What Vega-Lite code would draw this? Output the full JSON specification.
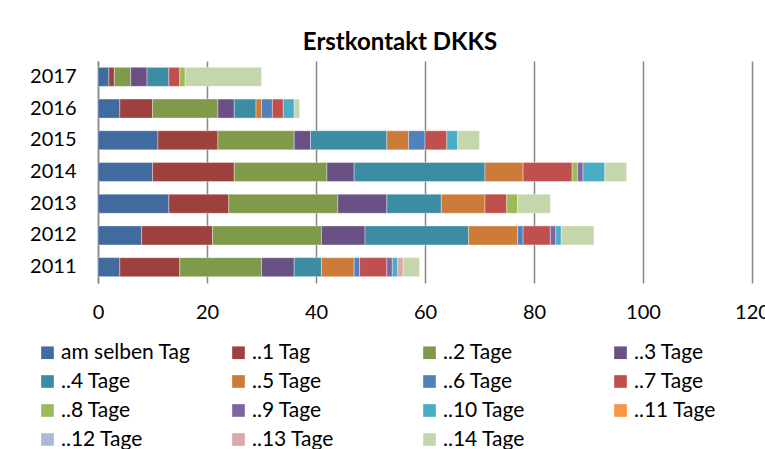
{
  "$schema": "https://vega.github.io/schema/vega-lite/v6.json",
  "autosize": "none",
  "width": 654,
  "height": 222,
  "padding": {"left": 98, "top": 61, "right": 13, "bottom": 166},
  "background": "#ffffff",
  "config": {
    "font": "Lato",
    "view": {"stroke": null},
    "axis": {"labelFont": "Lato", "labelFontSize": 20, "labelColor": "#000000"}
  },
  "title": {
    "text": "Erstkontakt DKKS",
    "font": "Lato",
    "fontSize": 24,
    "fontWeight": "bold",
    "color": "#000000",
    "anchor": "middle",
    "dx": -25,
    "offset": 6
  },
  "data": {
    "values": [
      {"y": "2017", "c": "am selben Tag", "k": 0, "v": 2},
      {"y": "2017", "c": "..1 Tag", "k": 1, "v": 1},
      {"y": "2017", "c": "..2 Tage", "k": 2, "v": 3},
      {"y": "2017", "c": "..3 Tage", "k": 3, "v": 3},
      {"y": "2017", "c": "..4 Tage", "k": 4, "v": 4},
      {"y": "2017", "c": "..7 Tage", "k": 7, "v": 2},
      {"y": "2017", "c": "..8 Tage", "k": 8, "v": 1},
      {"y": "2017", "c": "..14 Tage", "k": 14, "v": 14},
      {"y": "2016", "c": "am selben Tag", "k": 0, "v": 4},
      {"y": "2016", "c": "..1 Tag", "k": 1, "v": 6},
      {"y": "2016", "c": "..2 Tage", "k": 2, "v": 12},
      {"y": "2016", "c": "..3 Tage", "k": 3, "v": 3},
      {"y": "2016", "c": "..4 Tage", "k": 4, "v": 4},
      {"y": "2016", "c": "..5 Tage", "k": 5, "v": 1},
      {"y": "2016", "c": "..6 Tage", "k": 6, "v": 2},
      {"y": "2016", "c": "..7 Tage", "k": 7, "v": 2},
      {"y": "2016", "c": "..10 Tage", "k": 10, "v": 2},
      {"y": "2016", "c": "..14 Tage", "k": 14, "v": 1},
      {"y": "2015", "c": "am selben Tag", "k": 0, "v": 11},
      {"y": "2015", "c": "..1 Tag", "k": 1, "v": 11},
      {"y": "2015", "c": "..2 Tage", "k": 2, "v": 14},
      {"y": "2015", "c": "..3 Tage", "k": 3, "v": 3},
      {"y": "2015", "c": "..4 Tage", "k": 4, "v": 14},
      {"y": "2015", "c": "..5 Tage", "k": 5, "v": 4},
      {"y": "2015", "c": "..6 Tage", "k": 6, "v": 3},
      {"y": "2015", "c": "..7 Tage", "k": 7, "v": 4},
      {"y": "2015", "c": "..10 Tage", "k": 10, "v": 2},
      {"y": "2015", "c": "..14 Tage", "k": 14, "v": 4},
      {"y": "2014", "c": "am selben Tag", "k": 0, "v": 10},
      {"y": "2014", "c": "..1 Tag", "k": 1, "v": 15},
      {"y": "2014", "c": "..2 Tage", "k": 2, "v": 17},
      {"y": "2014", "c": "..3 Tage", "k": 3, "v": 5},
      {"y": "2014", "c": "..4 Tage", "k": 4, "v": 24},
      {"y": "2014", "c": "..5 Tage", "k": 5, "v": 7},
      {"y": "2014", "c": "..7 Tage", "k": 7, "v": 9},
      {"y": "2014", "c": "..8 Tage", "k": 8, "v": 1},
      {"y": "2014", "c": "..9 Tage", "k": 9, "v": 1},
      {"y": "2014", "c": "..10 Tage", "k": 10, "v": 4},
      {"y": "2014", "c": "..14 Tage", "k": 14, "v": 4},
      {"y": "2013", "c": "am selben Tag", "k": 0, "v": 13},
      {"y": "2013", "c": "..1 Tag", "k": 1, "v": 11},
      {"y": "2013", "c": "..2 Tage", "k": 2, "v": 20},
      {"y": "2013", "c": "..3 Tage", "k": 3, "v": 9},
      {"y": "2013", "c": "..4 Tage", "k": 4, "v": 10},
      {"y": "2013", "c": "..5 Tage", "k": 5, "v": 8},
      {"y": "2013", "c": "..7 Tage", "k": 7, "v": 4},
      {"y": "2013", "c": "..8 Tage", "k": 8, "v": 2},
      {"y": "2013", "c": "..14 Tage", "k": 14, "v": 6},
      {"y": "2012", "c": "am selben Tag", "k": 0, "v": 8},
      {"y": "2012", "c": "..1 Tag", "k": 1, "v": 13},
      {"y": "2012", "c": "..2 Tage", "k": 2, "v": 20},
      {"y": "2012", "c": "..3 Tage", "k": 3, "v": 8},
      {"y": "2012", "c": "..4 Tage", "k": 4, "v": 19},
      {"y": "2012", "c": "..5 Tage", "k": 5, "v": 9},
      {"y": "2012", "c": "..6 Tage", "k": 6, "v": 1},
      {"y": "2012", "c": "..7 Tage", "k": 7, "v": 5},
      {"y": "2012", "c": "..9 Tage", "k": 9, "v": 1},
      {"y": "2012", "c": "..10 Tage", "k": 10, "v": 1},
      {"y": "2012", "c": "..14 Tage", "k": 14, "v": 6},
      {"y": "2011", "c": "am selben Tag", "k": 0, "v": 4},
      {"y": "2011", "c": "..1 Tag", "k": 1, "v": 11},
      {"y": "2011", "c": "..2 Tage", "k": 2, "v": 15},
      {"y": "2011", "c": "..3 Tage", "k": 3, "v": 6},
      {"y": "2011", "c": "..4 Tage", "k": 4, "v": 5},
      {"y": "2011", "c": "..5 Tage", "k": 5, "v": 6},
      {"y": "2011", "c": "..6 Tage", "k": 6, "v": 1},
      {"y": "2011", "c": "..7 Tage", "k": 7, "v": 5},
      {"y": "2011", "c": "..9 Tage", "k": 9, "v": 1},
      {"y": "2011", "c": "..10 Tage", "k": 10, "v": 1},
      {"y": "2011", "c": "..13 Tage", "k": 13, "v": 1},
      {"y": "2011", "c": "..14 Tage", "k": 14, "v": 3}
    ]
  },
  "mark": {"type": "bar", "stroke": "#ffffff", "strokeWidth": 0.6, "strokeOpacity": 0.6},
  "encoding": {
    "y": {
      "field": "y",
      "type": "ordinal",
      "sort": "descending",
      "scale": {"paddingInner": 0.4, "paddingOuter": 0.2},
      "axis": {
        "title": null,
        "ticks": false,
        "domainColor": "#868686",
        "domainWidth": 1.5,
        "labelPadding": 22
      }
    },
    "x": {
      "field": "v",
      "type": "quantitative",
      "stack": "zero",
      "scale": {"domain": [0, 120], "nice": false},
      "axis": {
        "title": null,
        "values": [0, 20, 40, 60, 80, 100, 120],
        "ticks": false,
        "domain": false,
        "grid": true,
        "gridColor": "#868686",
        "gridWidth": 1.5,
        "labelPadding": 19,
        "labelFlush": false
      }
    },
    "order": {"field": "k", "type": "quantitative", "sort": "ascending"},
    "color": {
      "field": "c",
      "type": "nominal",
      "sort": ["am selben Tag", "..1 Tag", "..2 Tage", "..3 Tage", "..4 Tage", "..5 Tage", "..6 Tage", "..7 Tage", "..8 Tage", "..9 Tage", "..10 Tage", "..11 Tage", "..12 Tage", "..13 Tage", "..14 Tage"],
      "scale": {
        "domain": ["am selben Tag", "..1 Tag", "..2 Tage", "..3 Tage", "..4 Tage", "..5 Tage", "..6 Tage", "..7 Tage", "..8 Tage", "..9 Tage", "..10 Tage", "..11 Tage", "..12 Tage", "..13 Tage", "..14 Tage"],
        "range": ["#416A9E", "#9E413E", "#7F9A48", "#695185", "#3C8DA3", "#CC7B38", "#4F81BD", "#C0504D", "#9BBB59", "#8064A2", "#4BACC6", "#F79646", "#AABAD7", "#D9AAA9", "#C6D6AC"]
      },
      "legend": {
        "title": null,
        "orient": "none",
        "legendX": -61,
        "legendY": 281,
        "columns": 4,
        "direction": "horizontal",
        "gridAlign": "all",
        "columnPadding": 37,
        "rowPadding": 7,
        "symbolType": "square",
        "symbolSize": 160,
        "symbolStrokeWidth": 0,
        "labelFont": "Lato",
        "labelFontSize": 21,
        "labelColor": "#000000",
        "labelOffset": 3,
        "labelLimit": 250
      }
    }
  }
}
